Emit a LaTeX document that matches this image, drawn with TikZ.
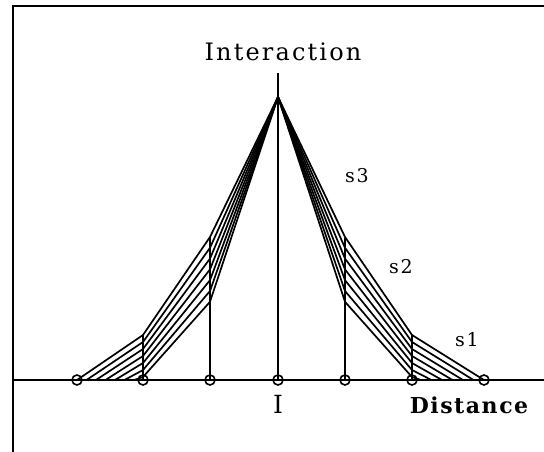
\documentclass[tikz,border=0pt]{standalone}
\usepackage{fontspec}
\setmainfont{DejaVu Serif}
\newfontfamily\plotfont[LetterSpace=9]{DejaVu Serif}
\newfontfamily\boldplotfont[LetterSpace=7]{DejaVu Serif Bold}
\usetikzlibrary{positioning}

\begin{document}
\begin{tikzpicture}[
    x=1pt, y=-1pt,
    every node/.style={inner sep=0pt, font=\plotfont\fontsize{24}{27}\selectfont},
    knot/.style={draw, circle, line width=1.6pt, minimum size=10pt},
    stage/.style={font=\plotfont\fontsize{19}{22}\selectfont},
    hatch/.style={line width=1.7pt, line join=round},
    axis/.style={line width=1.6pt}
]
\useasboundingbox (0,0) rectangle (544,452);

% frame and distance axis
\draw[axis] (13,452) -- (13,6) -- (544,6);
\draw[axis] (13,380) -- (544,380);

% knots on the axis
\foreach \x [count=\i] in {77,143,210,278,345,412,484}
    \node[knot] (k\i) at (\x,380) {};

\coordinate (apex) at (278,97);
\draw[axis] (k4.center) -- (278,73);
\draw[axis] (k2.center) -- (143,335);
\draw[axis] (k3.center) -- (210,237);
\draw[axis] (k5.center) -- (345,238);
\draw[axis] (k6.center) -- (412,335);

% hatched stages
\foreach \k in {0,...,6} {
    \pgfmathsetmacro\up{237+10.8*\k}
    \pgfmathsetmacro\lo{335+7*\k}
    \draw[hatch] (apex) -- (345,\up) -- (412,\lo) -- ({484-10.5*\k},380);
    \draw[hatch] (apex) -- (210,\up) -- (143,\lo) -- ({77+9.5*\k},380);
}

\node (ylab) at (283,52) {Interaction};
\node[font=\boldplotfont\fontsize{22}{26}\selectfont] (xlab) at (469,405) {Distance};
\node[font=\fontsize{25}{28}\selectfont] (orig) at (278,404) {I};
\node[stage] (s3) at (357,176) {s3};
\node[stage] (s2) at (401,267) {s2};
\node[stage] (s1) at (467,340) {s1};
\end{tikzpicture}
\end{document}
